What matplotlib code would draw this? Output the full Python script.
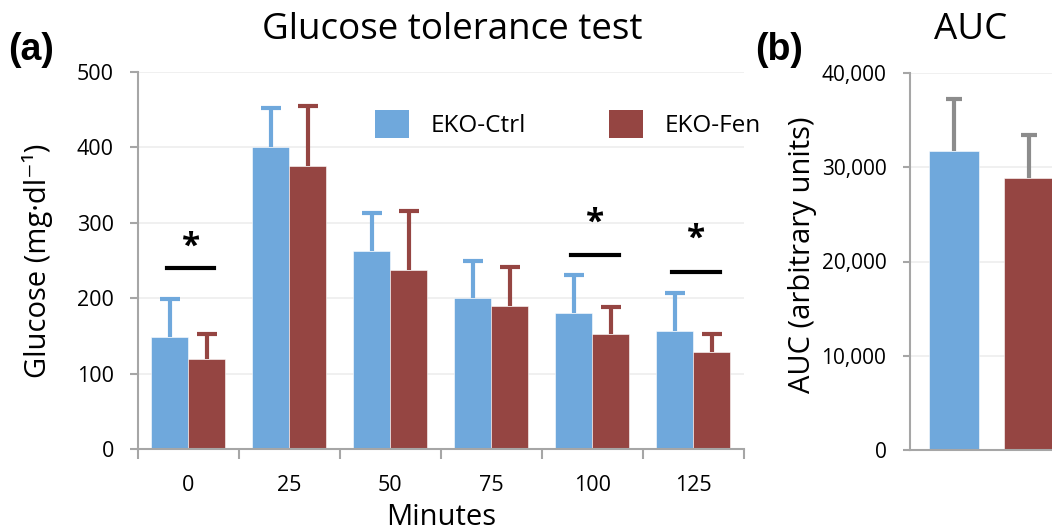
import matplotlib.pyplot as plt
from matplotlib.patches import Patch

# datos
minutes = ["0", "25", "50", "75", "100", "125"]
ctrl_mean = [148, 401, 263, 200, 180, 157]
ctrl_sd = [51, 51, 50, 50, 51, 50]
fen_mean = [119, 375, 238, 190, 152, 129]
fen_sd = [34, 80, 78, 51, 36, 23]

# marcas de significancia (indice de categoria, altura de linea, altura del asterisco)
sig_idx = [0, 4, 5]
sig_line = [240, 257, 235]
sig_star = [268, 299, 278]

auc_groups = ["EKO-Ctrl", "EKO-Fen"]
auc_mean = [31700, 28850]
auc_sd = [5500, 4600]

BLUE = "#6fa8dc"
RED = "#954542"
AXC = "#a6a6a6"
GRID = "#eeeeee"

plt.rcParams["font.family"] = ["Open Sans", "DejaVu Sans"]

fig = plt.figure(figsize=(10.52, 5.31), dpi=100)
W, H = 1052, 531


def upper_errorbar(axis, xs, ys, errs, color, capsize):
    # solo la mitad superior de la barra de error, como en Excel
    _, caps, _ = axis.errorbar(xs, ys, yerr=[[0] * len(xs), errs], fmt="none", ecolor=color,
                               elinewidth=3, capsize=capsize, capthick=3, zorder=1)
    caps[0].set_visible(False)


# panel (a)
ax = fig.add_axes([137.5 / W, 1 - 449 / H, 606.5 / W, 377 / H])
x = list(range(len(minutes)))
off = 0.183
bw = 0.366
xb = [i - off for i in x]
xr = [i + off for i in x]
ax.bar(xb, ctrl_mean, width=bw, color=BLUE, edgecolor="white", linewidth=0.4, zorder=2)
ax.bar(xr, fen_mean, width=bw, color=RED, edgecolor="white", linewidth=0.4, zorder=2)
upper_errorbar(ax, xb, ctrl_mean, ctrl_sd, BLUE, 7)
upper_errorbar(ax, xr, fen_mean, fen_sd, RED, 7)

for i, ly, sy in zip(sig_idx, sig_line, sig_star):
    ax.plot([i - 0.21, i + 0.26], [ly, ly], color="black", lw=3, zorder=3)
    ax.text(i + 0.03, sy, "*", ha="center", va="center", fontsize=24,
            fontweight="bold", color="black", zorder=3)

ax.set_xlim(-0.5, 5.5)
ax.set_ylim(0, 500)
ax.set_yticks(range(0, 501, 100))
ax.set_xticks(x)
ax.set_xticklabels(minutes)
ax.set_xticks([i - 0.5 for i in range(len(x) + 1)], minor=True)
ax.tick_params(axis="x", which="major", length=0, pad=19, labelsize=15.5)
ax.tick_params(axis="x", which="minor", length=7, width=1.5, color=AXC, direction="out")
ax.tick_params(axis="y", length=6, width=1.5, color=AXC, pad=11, labelsize=15.5)
ax.yaxis.grid(True, color=GRID, lw=1.2, zorder=0)
ax.set_axisbelow(True)
for s in ["top", "right"]:
    ax.spines[s].set_visible(False)
for s in ["left", "bottom"]:
    ax.spines[s].set_color(AXC)
    ax.spines[s].set_linewidth(1.5)
ax.set_ylabel("Glucose (mg·dl⁻¹)", fontsize=21)
ax.yaxis.set_label_coords(-0.139, 0.5)
ax.set_xlabel("Minutes", fontsize=21)
ax.xaxis.set_label_coords(0.5, -0.142)

handles = [Patch(facecolor=BLUE, label="EKO-Ctrl"), Patch(facecolor=RED, label="EKO-Fen")]
fig.legend(handles=handles, loc="center left", bbox_to_anchor=(353 / W, 1 - 124 / H),
           ncol=2, frameon=False, fontsize=17.5, handlelength=1.4, handleheight=1.4,
           columnspacing=3.4, handletextpad=0.9)

# panel (b)
ax2 = fig.add_axes([910 / W, 1 - 450 / H, 163 / W, 377 / H])
ax2.bar([0], auc_mean[:1], width=0.676, color=BLUE, edgecolor="white", linewidth=0.4, zorder=2)
ax2.bar([1], auc_mean[1:], width=0.676, color=RED, edgecolor="white", linewidth=0.4, zorder=2)
upper_errorbar(ax2, [0, 1], auc_mean, auc_sd, "#8c8c8c", 6)
ax2.set_xlim(-0.6, 1.6)
ax2.set_ylim(0, 40000)
ax2.set_yticks(range(0, 40001, 10000))
ax2.set_yticklabels([f"{v:,}" for v in range(0, 40001, 10000)])
ax2.set_xticks([])
ax2.tick_params(axis="y", length=5, width=1.5, color=AXC, pad=12, labelsize=15)
ax2.yaxis.grid(True, color=GRID, lw=1.2, zorder=0)
ax2.set_axisbelow(True)
for s in ["top", "right"]:
    ax2.spines[s].set_visible(False)
for s in ["left", "bottom"]:
    ax2.spines[s].set_color(AXC)
    ax2.spines[s].set_linewidth(1.5)
ax2.set_ylabel("AUC (arbitrary units)", fontsize=21)
ax2.yaxis.set_label_coords(-0.57, 0.517)

# titulos y letras de panel
fig.text(452 / W, 1 - 30 / H, "Glucose tolerance test", ha="center", va="center", fontsize=26.5)
fig.text(971 / W, 1 - 30 / H, "AUC", ha="center", va="center", fontsize=26.5)
fig.text(8 / W, 1 - 50 / H, "(a)", ha="left", va="center", fontsize=27, fontweight="bold",
         family=["Liberation Sans", "DejaVu Sans"])
fig.text(755 / W, 1 - 50 / H, "(b)", ha="left", va="center", fontsize=27, fontweight="bold",
         family=["Liberation Sans", "DejaVu Sans"])

fig.savefig("out.png", dpi=100)
